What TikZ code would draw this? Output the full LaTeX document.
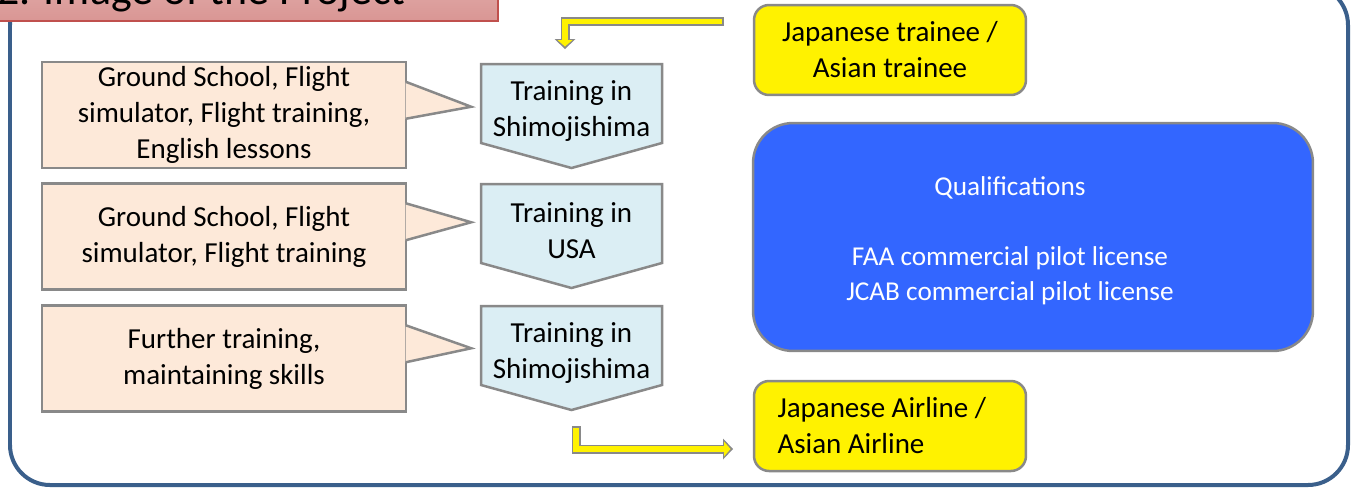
\documentclass[tikz,border=0pt]{standalone}
\usepackage{fontspec}
\setmainfont{Carlito}
\usetikzlibrary{arrows.meta,calc,backgrounds}

\definecolor{framecol}{HTML}{3A5F8B}
\definecolor{edgegray}{HTML}{898989}
\definecolor{lessonfill}{HTML}{FDE9D9}
\definecolor{stagefill}{HTML}{DBEEF4}
\definecolor{goalfill}{HTML}{3366FF}
\definecolor{titletop}{HTML}{E8BCBB}
\definecolor{titlebottom}{HTML}{D99694}
\definecolor{titleedge}{HTML}{C0504D}

\begin{document}
\begin{tikzpicture}[x=0.02cm, y=-0.02cm,
  every node/.style={font=\fontsize{16.5}{20.5}\selectfont, inner sep=0pt},
  lesson/.style={rectangle, draw=edgegray, fill=lessonfill, line width=0.05cm,
    minimum width=7.28cm, minimum height=2.12cm, align=center},
  pointer/.style={fill=lessonfill, draw=edgegray, line width=0.05cm, line join=miter},
  stage/.style={align=center},
  stageedge/.style={draw=edgegray, fill=stagefill, line width=0.05cm, line join=miter},
  party/.style={rectangle, rounded corners=0.3cm, draw=edgegray, fill=yellow,
    line width=0.05cm, minimum width=5.44cm, minimum height=1.8cm},
  goal/.style={rectangle, rounded corners=0.8cm, draw=edgegray, fill=goalfill,
    line width=0.05cm, minimum width=11.2cm, minimum height=4.56cm},
  goaltext/.style={align=center, text=white, font=\fontsize{15.5}{20}\selectfont},
  flow/.style={draw=yellow, line width=0.11cm, line join=miter,
    shorten <=0.04cm, shorten >=0.05cm,
    -{Triangle[length=0.13cm, width=0.3cm, line width=0pt]},
    preaction={draw=edgegray, line width=0.18cm, shorten <=0pt, shorten >=0pt,
      -{Triangle[length=0.2cm, width=0.42cm, line width=0pt]}}}]

  \useasboundingbox (0,0) rectangle (1357,488);
  \clip (0,0) rectangle (1357,488);

  % frame and title bar
  \draw[framecol, line width=0.08cm, rounded corners=0.8cm] (10,-15) rectangle (1348,485);
  \node[rectangle, top color=titletop, bottom color=titlebottom, draw=titleedge,
    line width=0.04cm, minimum width=10.14cm, minimum height=1.6cm,
    anchor=south west] (bar) at (-10,22) {};
  \node[font=\fontsize{25}{30}\selectfont, anchor=base west] (title) at (-3,4) {2. Image of the Project};

  % what is taught
  \node[lesson] (ground1) at (224,115) {Ground School, Flight\\simulator, Flight training,\\English lessons};
  \node[lesson] (ground2) at (224,236.5) {Ground School, Flight\\simulator, Flight training};
  \node[lesson] (further) at (224,358.5) {Further training,\\maintaining skills};

  \coordinate (tip1) at ($(ground1.north east)+(64,46)$);
  \coordinate (tip2) at ($(ground2.north east)+(64,40)$);
  \coordinate (tip3) at ($(further.north east)+(64,44)$);
  \filldraw[pointer] ($(ground1.north east)+(-1.5,21)$) -- (tip1) -- ($(ground1.north east)+(-1.5,58)$);
  \filldraw[pointer] ($(ground2.north east)+(-1.5,21)$) -- (tip2) -- ($(ground2.north east)+(-1.5,58)$);
  \filldraw[pointer] ($(further.north east)+(-1.5,21)$) -- (tip3) -- ($(further.north east)+(-1.5,58)$);

  % where it is taught
  \node[stage] (shimo1) at (571.5,111) {Training in\\Shimojishima};
  \node[stage] (usa)    at (571.5,231) {Training in\\USA};
  \node[stage] (shimo2) at (571.5,353) {Training in\\Shimojishima};
  \begin{scope}[on background layer]
    \draw[stageedge] ($(shimo1)+(-90.5,-47)$) -- ++(181,0) -- ++(0,79) -- ++(-90.5,25) -- ++(-90.5,-25) -- cycle;
    \draw[stageedge] ($(usa)+(-90.5,-47)$) -- ++(181,0) -- ++(0,79) -- ++(-90.5,25) -- ++(-90.5,-25) -- cycle;
    \draw[stageedge] ($(shimo2)+(-90.5,-47)$) -- ++(181,0) -- ++(0,79) -- ++(-90.5,25) -- ++(-90.5,-25) -- cycle;
  \end{scope}

  % who goes in and out
  \node[party, align=center] (trainee) at (890,50) {Japanese trainee /\\Asian trainee};
  \node[party, align=flush left, text width=4.5cm] (airline) at (890,426) {Japanese Airline /\\Asian Airline};
  \node[goal, label={[goaltext, xshift=-0.46cm, yshift=-0.08cm]center:Qualifications\\[20pt]FAA commercial pilot license\\JCAB commercial pilot license}] (quali) at (1033,237) {};

  \coordinate (in1)  at (724,21.5);
  \coordinate (out1) at (565,49);
  \coordinate (out2) at (576,426);
  \coordinate (in2)  at (733,449);
  \draw[flow] (in1) -| (out1);
  \draw[flow] (out2) |- (in2);
\end{tikzpicture}
\end{document}
